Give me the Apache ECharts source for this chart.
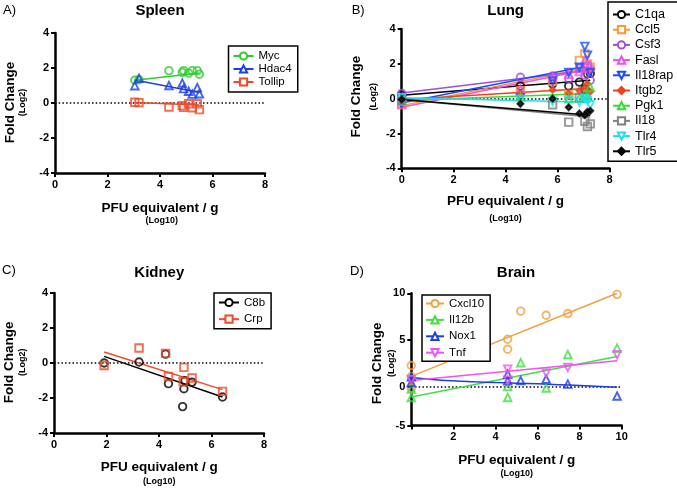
<!DOCTYPE html>
<html><head><meta charset="utf-8">
<script src="https://cdn.jsdelivr.net/npm/echarts@6/dist/echarts.min.js"></script>
<style>html,body{margin:0;padding:0;background:#fff}#c{width:677px;height:489px}</style>
</head><body><div id="c"></div>
<script>
// ---------- DATA ----------
// A) Spleen
const spleenX      = [3.04, 3.20, 4.34, 4.85, 4.90, 5.09, 5.23, 5.42, 5.50];
const spleenMyc    = [1.30, 1.33, 1.85, 1.75, 1.85, 1.71, 1.85, 1.85, 1.64];
const spleenHdac4  = [0.99, 1.41, 1.00, 1.14, 0.82, 0.67, 0.51, 0.88, 0.53];
const spleenTollip = [0.04, 0.02, -0.23, -0.15, -0.25, -0.04, -0.27, -0.04, -0.38];
const fitMyc    = [[3.04, 1.30], [5.50, 1.72]];
const fitHdac4  = [[3.04, 1.32], [5.50, 0.60]];
const fitTollip = [[3.04, 0.03], [5.50, -0.12]];

// B) Lung
const lungX      = [0, 4.57, 5.81, 6.43, 6.84, 7.05, 7.15, 7.26];
const lungC1qa   = [0.22, 0.73, 0.85, 0.73, 0.95, 0.55, 1.42, 1.45];
const lungCcl5   = [-0.35, 0.45, 1.00, 0.25, 2.20, 2.60, 2.00, 1.80];
const lungCsf3   = [0.30, 1.23, 1.30, 1.15, 1.75, 1.35, 1.90, 1.05];
const lungFasl   = [-0.30, 0.55, 1.20, 1.40, 1.55, 2.20, 1.75, 1.90];
const lungIl18rap= [-0.25, 0.05, 1.00, 1.50, 1.80, 3.00, 2.50, 1.50];
const lungItgb2  = [0.00, 0.30, 0.50, 0.30, 0.45, 0.60, 0.85, 0.40];
const lungPgk1   = [-0.15, 0.10, 0.05, 0.00, 0.05, 0.25, 0.15, 0.65];
const lungIl18   = [-0.10, null, -0.35, -1.35, 0.05, -1.30, -1.60, -1.45];
const lungTlr4   = [0.05, -0.05, -0.15, -0.10, -0.20, 0.00, -0.10, -0.35];
const lungTlr5   = [-0.05, -0.30, 0.00, -0.50, -0.85, -0.95, -0.75, -0.70];
const fitC1qa    = [[0, 0.20], [7.26, 1.05]];
const fitCcl5    = [[0, -0.40], [7.26, 1.80]];
const fitCsf3    = [[0, 0.32], [7.26, 1.65]];
const fitFasl    = [[0, -0.50], [7.26, 1.70]];
const fitIl18rap = [[0, -0.25], [7.05, 1.85]];
const fitItgb2   = [[0, -0.05], [7.26, 0.60]];
const fitPgk1    = [[0, -0.10], [7.26, 0.30]];
const fitIl18    = [[0, -0.05], [7.26, -1.05]];
const fitTlr4    = [[0, 0.05], [7.26, -0.20]];
const fitTlr5    = [[0, -0.05], [7.26, -0.95]];

// C) Kidney
const c8bX = [1.91, 3.24, 4.25, 4.36, 4.90, 4.95, 4.99, 5.26, 6.42];
const c8bY = [0.00, 0.06, 0.51, -1.18, -2.49, -1.47, -1.01, -1.09, -1.94];
const crpX = [1.91, 3.24, 4.25, 4.36, 4.92, 4.95, 5.26, 6.42];
const crpY = [-0.14, 0.86, 0.55, -0.77, -1.07, -0.25, -0.86, -1.62];
const fitC8b = [[1.91, 0.38], [6.42, -1.94]];
const fitCrp = [[1.91, 0.63], [6.42, -1.52]];

// D) Brain
const cxcl10X = [0, 0, 0, 4.58, 4.58, 5.20, 6.41, 7.44, 9.78];
const cxcl10Y = [2.30, 1.13, -0.10, 5.10, 4.04, 8.10, 7.66, 7.84, 9.89];
const il12bX  = [0, 0, 4.58, 4.58, 5.20, 6.41, 7.44, 9.78];
const il12bY  = [-0.20, -1.10, 0.06, -1.10, 2.60, -0.10, 3.47, 4.15];
const nox1X   = [0, 0, 4.58, 4.58, 5.20, 6.41, 7.44, 9.78];
const nox1Y   = [1.10, 0.50, 1.38, 0.67, 0.70, 0.85, 0.32, -0.95];
const tnfX    = [0, 4.58, 4.58, 6.41, 7.44, 9.78];
const tnfY    = [0.80, 1.92, 0.75, 1.50, 2.10, 3.46];
const fitCxcl10 = [[0, 1.15], [9.78, 10.0]];
const fitIl12b  = [[0, -1.06], [9.78, 3.26]];
const fitTnf    = [[0, 0.70], [9.78, 2.80]];
const fitNox1X  = [0, 1, 2, 3, 4, 5, 6, 7, 8, 9, 9.78];
const fitNox1Y  = [1.03, 0.82, 0.67, 0.57, 0.49, 0.42, 0.35, 0.26, 0.17, 0.08, 0.00];

const brainYTicks = [-4.1, 0, 5, 10];
const brainYLabels = ['-5', '0', '5', '10'];

// ---------- STYLE ----------
const FONT = '"Liberation Sans", Arial, sans-serif';
const TRI = 'triangle';
const INV = 'path://M0,0L10,0L5,9Z';
const series = [];
function pairs(xs, ys) { return xs.map((x, i) => [x, ys[i]]).filter(d => d[1] != null); }
function gene(gi, name, xs, ys, fit, color, symbol, opts) {
  opts = opts || {};
  const filled = !!opts.filled;
  const s = {
    type: 'line', name, xAxisIndex: gi, yAxisIndex: gi, data: fit,
    showSymbol: false, symbol, symbolSize: 7, smooth: !!opts.smooth,
    lineStyle: { color, width: 1.5 },
    itemStyle: { color: filled ? color : '#fff', borderColor: color, borderWidth: 1.5 },
    silent: true, z: 3
  };
  if (opts.zero) {
    s.markLine = { silent: true, symbol: 'none', label: { show: false },
      lineStyle: { type: [1.5, 2.2], color: '#000', width: 1.6 }, data: [{ yAxis: 0 }], z: 2 };
  }
  series.push(s);
  series.push({
    type: 'scatter', name, xAxisIndex: gi, yAxisIndex: gi, data: pairs(xs, ys),
    symbol, symbolSize: opts.size || 7.5,
    itemStyle: { color: filled ? color : 'rgba(255,255,255,0)', borderColor: color, borderWidth: 1.9 },
    silent: true, z: 4
  });
}
// A
gene(0, 'Myc', spleenX, spleenMyc, fitMyc, '#2fcc2f', 'circle', { zero: true });
gene(0, 'Hdac4', spleenX, spleenHdac4, fitHdac4, '#1c3fe0', TRI);
gene(0, 'Tollip', spleenX, spleenTollip, fitTollip, '#ea4a2c', 'rect');
// B
gene(1, 'C1qa', lungX, lungC1qa, fitC1qa, '#000000', 'circle', { zero: true });
gene(1, 'Ccl5', lungX, lungCcl5, fitCcl5, '#f59a2c', 'rect');
gene(1, 'Csf3', lungX, lungCsf3, fitCsf3, '#9b50e0', 'circle');
gene(1, 'Fasl', lungX, lungFasl, fitFasl, '#ee4fee', TRI);
gene(1, 'Il18rap', lungX, lungIl18rap, fitIl18rap, '#1a4bff', INV);
gene(1, 'Itgb2', lungX, lungItgb2, fitItgb2, '#ee4020', 'diamond', { filled: true, size: 6 });
gene(1, 'Pgk1', lungX, lungPgk1, fitPgk1, '#33dd33', TRI);
gene(1, 'Il18', lungX, lungIl18, fitIl18, '#808080', 'rect');
gene(1, 'Tlr4', lungX, lungTlr4, fitTlr4, '#22ddee', INV);
gene(1, 'Tlr5', lungX, lungTlr5, fitTlr5, '#000000', 'diamond', { filled: true, size: 6 });
// C
gene(2, 'C8b', c8bX, c8bY, fitC8b, '#000000', 'circle', { zero: true });
gene(2, 'Crp', crpX, crpY, fitCrp, '#ee4a2a', 'rect');
// D
gene(3, 'Cxcl10', cxcl10X, cxcl10Y, fitCxcl10, '#f0a040', 'circle', { zero: true });
gene(3, 'Il12b', il12bX, il12bY, fitIl12b, '#44dd44', TRI);
gene(3, 'Nox1', nox1X, nox1Y, pairs(fitNox1X, fitNox1Y), '#1c3fe0', TRI, { smooth: true });
gene(3, 'Tnf', tnfX, tnfY, fitTnf, '#ee55ee', INV);

const grids = [
  { left: 55, top: 33, width: 210, height: 140 },
  { left: 401.7, top: 29, width: 207.8, height: 139.3 },
  { left: 54, top: 293, width: 210, height: 140 },
  { left: 411.3, top: 293.3, width: 210.4, height: 132.3 }
];
const axLine = { show: true, onZero: false, lineStyle: { color: '#000', width: 2.5 } };
const axTick = { show: true, length: 4, lineStyle: { color: '#000', width: 2 } };
const lbl = { color: '#000', fontWeight: 'bold', fontSize: 11, fontFamily: FONT, margin: 6 };
function xa(gi, max) {
  return { type: 'value', gridIndex: gi, min: 0, max, interval: 2, axisLine: axLine, axisTick: axTick,
    axisLabel: Object.assign({}, lbl, gi === 3 ? { formatter: v => v === 0 ? '' : String(v) } : {}),
    splitLine: { show: false } };
}
function ya(gi) {
  return { type: 'value', gridIndex: gi, min: -4, max: 4, interval: 2, axisLine: axLine, axisTick: axTick,
    axisLabel: lbl, splitLine: { show: false } };
}
const yD = { type: 'value', gridIndex: 3, min: brainYTicks[0], max: 10, axisLine: axLine,
  axisTick: Object.assign({}, axTick, { customValues: brainYTicks }),
  axisLabel: Object.assign({}, lbl, { customValues: brainYTicks,
    formatter: v => brainYLabels[brainYTicks.indexOf(v)] }),
  splitLine: { show: false } };

function legend(names, left, top, o) {
  return Object.assign({
    data: names, orient: 'vertical', left, top, itemWidth: 20, itemHeight: 9,
    borderColor: '#000', borderWidth: 1.5, borderRadius: 0, backgroundColor: '#fff',
    selectedMode: false, itemGap: 1,
    textStyle: { color: '#000', fontFamily: FONT, fontSize: 11.5, lineHeight: 12 },
    padding: [4, 6, 4, 4]
  }, o || {});
}
const legends = [
  legend(['Myc', 'Hdac4', 'Tollip'], 228.5, 46),
  legend(['C1qa', 'Ccl5', 'Csf3', 'Fasl', 'Il18rap', 'Itgb2', 'Pgk1', 'Il18', 'Tlr4', 'Tlr5'], 608, 2,
    { itemWidth: 17, itemGap: 1.2, padding: [5.5, 8, 3, 4], textStyle: { color: '#000', fontFamily: FONT, fontSize: 12.5, lineHeight: 14 } }),
  legend(['C8b', 'Crp'], 214, 293, { itemGap: 2.7, padding: [2.5, 6, 2.5, 4], textStyle: { color: '#000', fontFamily: FONT, fontSize: 11.5, lineHeight: 14 } }),
  legend(['Cxcl10', 'Il12b', 'Nox1', 'Tnf'], 422, 295, { itemWidth: 18, itemGap: 2.4, padding: [1.5, 6, 1.5, 3], textStyle: { color: '#000', fontFamily: FONT, fontSize: 11.5, lineHeight: 14 } })
];

function T(text, x, y, font, rot, align) {
  return { type: 'text', x, y, rotation: rot || 0, silent: true,
    style: { text, font, fill: '#000', align: align || 'center', verticalAlign: 'middle',
      textAlign: align || 'center', textVerticalAlign: 'middle' } };
}
const BIG = 'bold 13.5px ' + FONT, SUB = 'bold 9px ' + FONT, TTL = 'bold 15px ' + FONT, LET = '13px ' + FONT;
const R = Math.PI / 2;
const graphics = [
  T('A)', 3, 10, LET, 0, 'left'), T('Spleen', 160, 11, TTL),
  T('PFU equivalent / g', 160, 208, BIG), T('(Log10)', 161.7, 220.7, SUB),
  T('Fold Change', 10.7, 102.5, BIG, R), T('(Log2)', 22.7, 102.5, SUB, R),
  T('B)', 351.7, 10, LET, 0, 'left'), T('Lung', 505.7, 11, TTL),
  T('PFU equivalent / g', 505.5, 201.7, BIG), T('(Log10)', 505.5, 219, SUB),
  T('Fold Change', 356.7, 96.7, BIG, R), T('(Log2)', 373.3, 96.7, SUB, R),
  T('C)', 2, 270, LET, 0, 'left'), T('Kidney', 159.3, 273.3, TTL),
  T('PFU equivalent / g', 159.3, 467.7, BIG), T('(Log10)', 159.3, 481.7, SUB),
  T('Fold Change', 9.3, 362.3, BIG, R), T('(Log2)', 22.7, 362.3, SUB, R),
  T('D)', 350, 271.7, LET, 0, 'left'), T('Brain', 516, 273.3, TTL),
  T('PFU equivalent / g', 516.7, 460, BIG), T('(Log10)', 516.7, 473.3, SUB),
  T('Fold Change', 377.3, 363.3, BIG, R), T('(Log2)', 391.7, 363.3, SUB, R)
];

const chart = echarts.init(document.getElementById('c'), null, { renderer: 'canvas' });
chart.setOption({
  animation: false,
  backgroundColor: '#fff',
  grid: grids,
  xAxis: [xa(0, 8), xa(1, 8), xa(2, 8), xa(3, 10)],
  yAxis: [ya(0), ya(1), ya(2), yD],
  legend: legends,
  graphic: graphics,
  series
});
</script></body></html>
